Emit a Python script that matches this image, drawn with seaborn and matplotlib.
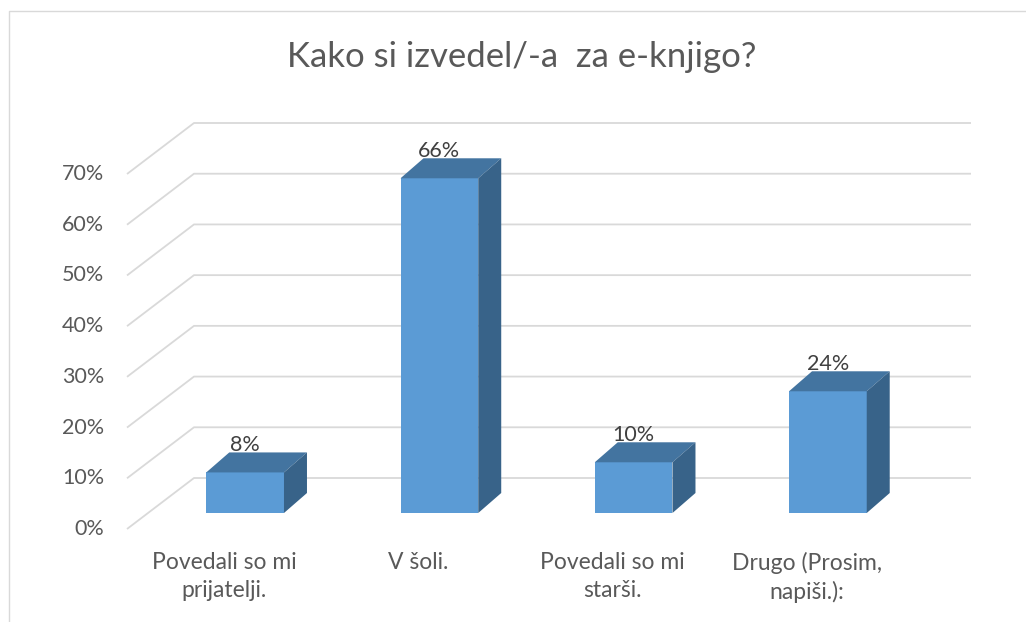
import numpy as np
import pandas as pd
import seaborn as sns
import matplotlib.pyplot as plt
from matplotlib.patches import Polygon
from matplotlib.lines import Line2D

# ---- data ----
title = "Kako si izvedel/-a  za e-knjigo?"
categories = ["Povedali so mi\nprijatelji.", "V šoli.", "Povedali so mi\nstarši.", "Drugo (Prosim,\nnapiši.):"]
values = [8, 66, 10, 24]
yticks = [0, 10, 20, 30, 40, 50, 60, 70]
ytick_labels = ["0%", "10%", "20%", "30%", "40%", "50%", "60%", "70%"]

# ---- style ----
FRONT = "#5B9BD5"
TOP = "#4374A0"
SIDE = "#386389"
GRID = "#D9D9D9"
AXTXT = "#595959"
LBLTXT = "#404040"
PX = 0.72  # points per pixel at dpi 100

sns.set_theme(style="white")
plt.rcParams["font.family"] = ["Lato", "DejaVu Sans"]

W, H = 1026, 622
fig = plt.figure(figsize=(W / 100, H / 100), dpi=100)
ax = fig.add_axes([148 / W, (H - 513) / H, 777 / W, 355 / H])

df = pd.DataFrame({"cat": categories, "val": values})
sns.barplot(data=df, x="cat", y="val", ax=ax, color=FRONT, saturation=1,
            width=0.4, linewidth=0, zorder=3)
ax.set_xlim(-0.5, 3.5)
ax.set_ylim(0, 70)
ax.axis("off")

# pixel -> data conversion for the 3D depth offsets
o = ax.transData.transform((0, 0))
ux = ax.transData.transform((1, 0))[0] - o[0]
uy = ax.transData.transform((0, 1))[1] - o[1]
fdx, fdy = -21 / ux, -16 / uy     # front plane
bdx, bdy = 46 / ux, 35 / uy       # back wall
ddx, ddy = 23 / ux, 20 / uy       # bar depth

# gridlines (floor diagonal + back wall)
xl, xr = ax.get_xlim()
for t in yticks:
    ax.plot([xl + fdx, xl + bdx, xr + bdx], [t + fdy, t + bdy, t + bdy],
            color=GRID, lw=1.3, zorder=0, clip_on=False, solid_capstyle="butt")

# 3D faces of the bars
for p in ax.patches[:len(values)]:
    x0, w, h = p.get_x(), p.get_width(), p.get_height()
    top = Polygon([(x0, h), (x0 + w, h), (x0 + w + ddx, h + ddy), (x0 + ddx, h + ddy)],
                  closed=True, facecolor=TOP, edgecolor="none", zorder=3, clip_on=False)
    side = Polygon([(x0 + w, 0), (x0 + w, h), (x0 + w + ddx, h + ddy), (x0 + w + ddx, ddy)],
                   closed=True, facecolor=SIDE, edgecolor="none", zorder=3, clip_on=False)
    ax.add_patch(top)
    ax.add_patch(side)

# data labels
for i, v in enumerate(values):
    ax.annotate(f"{v}%", xy=(i, v), xytext=(0, 27 * PX), textcoords="offset points",
                ha="center", va="center", fontsize=15.5, color=LBLTXT, zorder=5,
                annotation_clip=False)

# y tick labels on the front plane
for t, lbl in zip(yticks, ytick_labels):
    ax.annotate(lbl, xy=(xl + fdx, t + fdy), xytext=(-23 * PX, 0), textcoords="offset points",
                ha="right", va="center", fontsize=15.5, color=AXTXT, annotation_clip=False)

# category labels
for i, c in enumerate(categories):
    ax.annotate(c, xy=(i + fdx, fdy), xytext=(0, -23 * PX), textcoords="offset points",
                ha="center", va="top", fontsize=16.5, color=AXTXT, linespacing=1.4,
                annotation_clip=False)

# title
fig.text(522 / W, 1 - 57 / H, title, ha="center", va="center", fontsize=25, color=AXTXT)

# chart-area border
fig.add_artist(Line2D([8.5 / W, 8.5 / W, 1.01], [-0.01, 1 - 10.5 / H, 1 - 10.5 / H],
                      color=GRID, lw=1.0, transform=fig.transFigure))

fig.savefig("out.png", dpi=100)
